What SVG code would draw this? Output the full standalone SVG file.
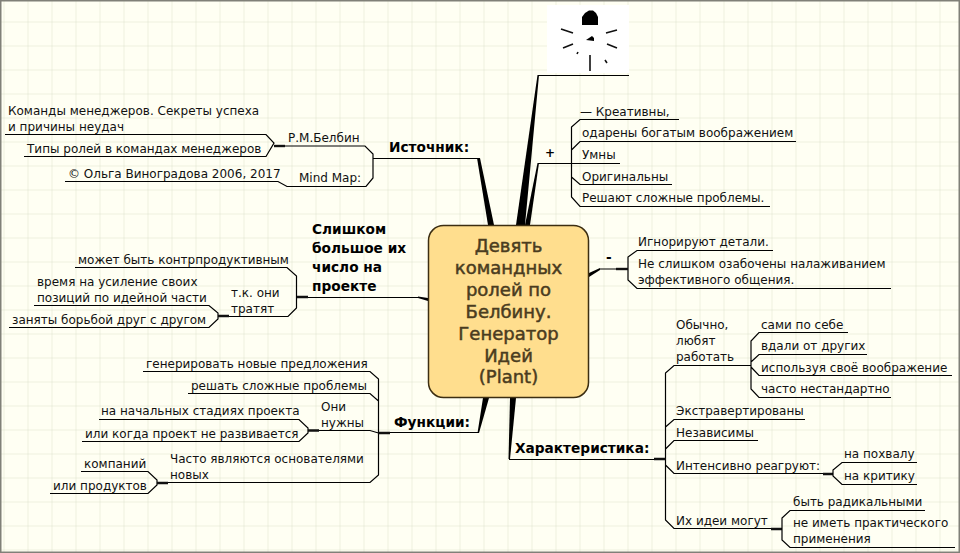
<svg xmlns="http://www.w3.org/2000/svg" width="960" height="553" viewBox="0 0 960 553">
<style>
text{font-family:"DejaVu Sans","Liberation Sans",sans-serif;font-size:12px;fill:#111}
.b{font-weight:bold;font-size:13.700px;fill:#000}
.c{font-size:18px;fill:#4a3c20;stroke:#4a3c20;stroke-width:0.500;text-anchor:middle}
.l{fill:none;stroke:#000;stroke-width:1.200}
.t{fill:none;stroke:#111;stroke-width:2.400}
.w{fill:#000;stroke:none}
</style>
<defs>
<pattern id="g" width="24" height="24" patternUnits="userSpaceOnUse" x="4.500" y="-1.500"><path d="M24 0V24M0 24H24" fill="none" stroke="#dde0cd" stroke-width="1"/></pattern>
</defs>
<rect width="960" height="553" fill="#fffff3"/>
<rect width="960" height="553" fill="url(#g)"/>
<rect x="0.750" y="0.750" width="958.500" height="551.500" fill="none" stroke="#808078" stroke-width="1.500"/>
<g id="connectors">
<polygon class="w" points="477,158 488,225 494,225 480,158"/>
<polygon class="w" points="537.500,75 516,225 525,225 539,75"/>
<polygon class="w" points="537.500,163 525,225 530,225 539,163"/>
<polygon class="w" points="589,273 589,277 600,270 600,268"/>
<polygon class="w" points="510,398 516,398 510,459 508.500,459"/>
<polygon class="w" points="483,398 489,398 479,433 477.500,433"/>
<polygon class="w" points="418,296.500 428,298 428,301 418,298"/>
<path class="l" d="M373 158.500H478M538 75.500H629M538 163.500H620M600 269H627M509 459.500H665M378 432.500H478M297 297.500H418"/>
<path class="l" d="M5 134.500H266L274 143L266 156.500H24M274 146H365L373 154V178L366 186.500H287L278 181.500H65"/>
<path class="t" d="M274 146H285"/>
<path class="l" d="M679 119.500H580L571.500 127V197L580 206.500H770M796 141.500H580L571.500 150M620 163.500H571.500M672 184.500H580L571.500 177"/>
<path class="l" d="M773 250.500H637L628 257V280L637 288.500H891"/>
<path class="t" d="M616 269H628"/>
<path class="l" d="M665.500 459V373L674 365.500H751M665.500 459V520L674 528.500H771M805 419.500H674L665.500 427M758 440.500H674L665.500 449M665.500 465L674 473.500H833"/>
<path class="t" d="M654 459H665.500M823 474H833M771 529H782"/>
<path class="l" d="M848 332.500H759L751 341V389L759 397.500H891M867 354.500H759L751 362M952 375.500H759L751 367"/>
<path class="l" d="M917 462.500H842L833 470V476L842 484.500H917"/>
<path class="l" d="M925 510.500H790L782 518V540L790 547.500H955"/>
<path class="l" d="M75 267.500H287L296.500 276V308L288 316.500H218M34 305.500H209L218 313V319L209 327.500H9"/>
<path class="t" d="M297 297H308M218 316H229"/>
<path class="l" d="M143 371.500H370L378.500 379V475L370 482.500H157M188 393.500H370L378.500 401M308 430.500H370L378.500 433M99 419.500H299L308 428V433L299 441.500H82M81 471.500H148L157 480V485L148 493.500H50"/>
<path class="t" d="M378.500 433H390M308 430.500H319M157 483H168"/>
</g>
<g id="picture">
<rect x="547" y="5" width="82" height="68" fill="#fff"/>
<path d="M582 25V17L585 13L589 10.500L593 10.500L596 13L598 17V25Z" fill="#000"/>
<path d="M586 40L592 36L594 38L594 41Z" fill="#000"/>
<path d="M561 29L573 33M606 33L617 30M563 48L573 44M607 44L617 48M578 52L577 54M590 55V71M605 60L607 63" fill="none" stroke="#111" stroke-width="1.600"/>
</g>
<g id="center">
<rect x="428.500" y="225.500" width="160" height="172" rx="15" fill="#ffde8e" stroke="#3c2e12" stroke-width="1.500"/>
<text class="c" x="508.500" y="252">Девять</text>
<text class="c" x="508.500" y="274">командных</text>
<text class="c" x="508.500" y="296">ролей по</text>
<text class="c" x="508.500" y="318">Белбину.</text>
<text class="c" x="508.500" y="340">Генератор</text>
<text class="c" x="508.500" y="362">Идей</text>
<text class="c" x="508.500" y="383">(Plant)</text>
</g>
<g id="source">
<text class="b" x="389" y="152">Источник:</text>
<text x="288" y="142">Р.М.Белбин</text>
<text x="8" y="115">Команды менеджеров. Секреты успеха</text>
<text x="8" y="131">и причины неудач</text>
<text x="27" y="153">Типы ролей в командах менеджеров</text>
<text x="299" y="182">Mind Map:</text>
<text x="68" y="178">© Ольга Виноградова 2006, 2017</text>
</g>
<g id="plus">
<text class="b" x="545" y="157" style="font-size:12px">+</text>
<text x="580" y="116">— Креативны,</text>
<text x="582" y="137">одарены богатым воображением</text>
<text x="582" y="159">Умны</text>
<text x="582" y="181">Оригинальны</text>
<text x="582" y="202">Решают сложные проблемы.</text>
</g>
<g id="minus">
<text class="b" x="606" y="262">-</text>
<text x="638" y="246">Игнорируют детали.</text>
<text x="638" y="268">Не слишком озабочены налаживанием</text>
<text x="638" y="284">эффективного общения.</text>
</g>
<g id="character">
<text class="b" x="515" y="453">Характеристика:</text>
<text x="676" y="329">Обычно,</text>
<text x="676" y="345">любят</text>
<text x="676" y="361">работать</text>
<text x="761" y="329">сами по себе</text>
<text x="761" y="350">вдали от других</text>
<text x="761" y="372">используя своё воображение</text>
<text x="761" y="393">часто нестандартно</text>
<text x="676" y="415">Экстравертированы</text>
<text x="676" y="437">Независимы</text>
<text x="676" y="470">Интенсивно реагруют:</text>
<text x="844" y="458">на похвалу</text>
<text x="844" y="480">на критику</text>
<text x="676" y="525">Их идеи могут</text>
<text x="793" y="506">быть радикальными</text>
<text x="793" y="527">не иметь практического</text>
<text x="793" y="543">применения</text>
</g>
<g id="too-many">
<text class="b" x="312" y="234">Слишком</text>
<text class="b" x="312" y="253">большое их</text>
<text class="b" x="312" y="272">число на</text>
<text class="b" x="312" y="291">проекте</text>
<text x="78" y="264">может быть контрпродуктивным</text>
<text x="231" y="297">т.к. они</text>
<text x="231" y="313">тратят</text>
<text x="37" y="286">время на усиление своих</text>
<text x="37" y="302">позиций по идейной части</text>
<text x="12" y="324">заняты борьбой друг с другом</text>
</g>
<g id="functions">
<text class="b" x="394" y="427">Функции:</text>
<text x="146" y="368">генерировать новые предложения</text>
<text x="191" y="390">решать сложные проблемы</text>
<text x="321" y="411">Они</text>
<text x="321" y="427">нужны</text>
<text x="101" y="415">на начальных стадиях проекта</text>
<text x="85" y="438">или когда проект не развивается</text>
<text x="170" y="463">Часто являются основателями</text>
<text x="170" y="479">новых</text>
<text x="84" y="468">компаний</text>
<text x="53" y="490">или продуктов</text>
</g>
</svg>
